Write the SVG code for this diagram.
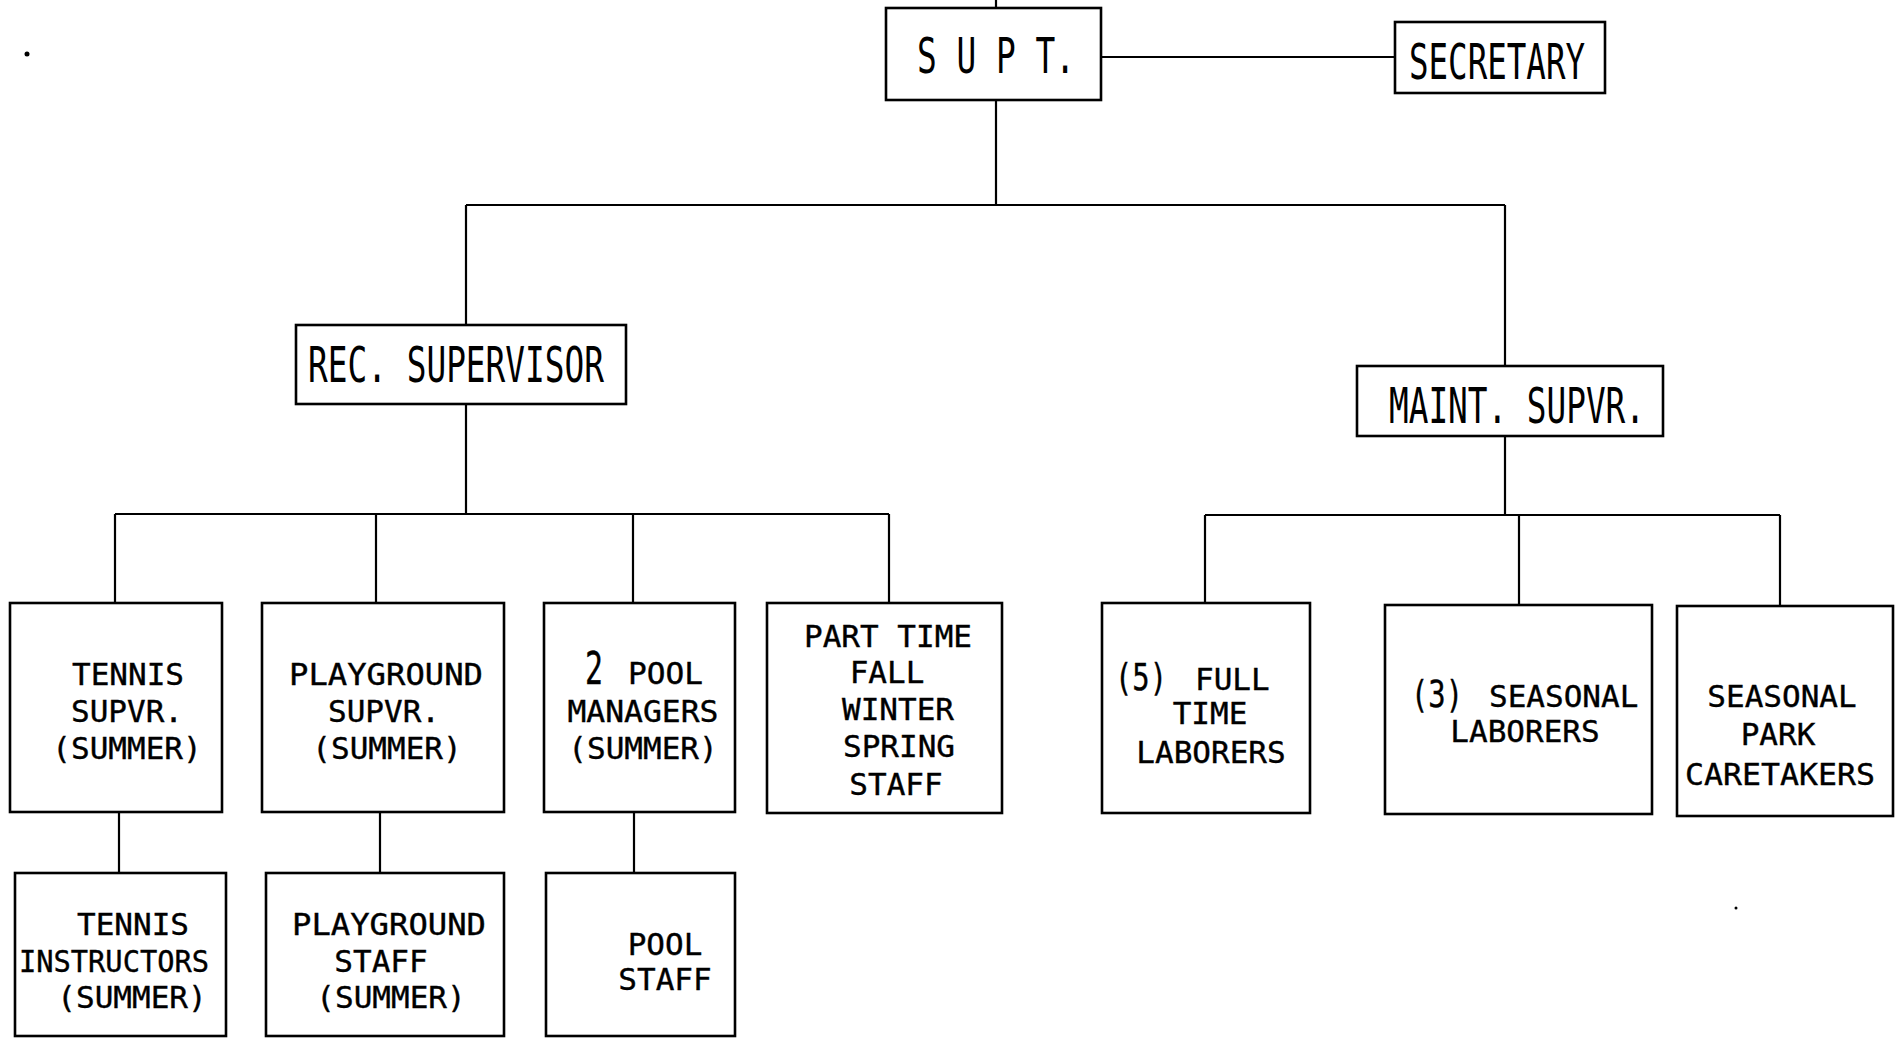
<svg xmlns="http://www.w3.org/2000/svg" width="1895" height="1038" viewBox="0 0 1895 1038">
<style>
.box{fill:#fff;stroke:#000;stroke-width:2.6}
.ln{fill:none;stroke:#000;stroke-width:2.2}
.big{font-family:"DejaVu Sans Mono","Liberation Mono",monospace;font-size:49px;fill:#000}
.sm{font-family:"DejaVu Sans Mono","Liberation Mono",monospace;font-size:31px;fill:#000;stroke:#000;stroke-width:0.4;text-anchor:middle}
.sl{font-family:"DejaVu Sans Mono","Liberation Mono",monospace;font-size:31px;fill:#000;stroke:#000;stroke-width:0.4}
</style>
<rect width="1895" height="1038" fill="#fff"/>
<g id="connectors">
<path class="ln" d="M996,0 V8 M1101,57 H1395 M996,100 V205 M466,205 H1505 M466,205 V325 M1505,205 V366 M466,404 V514 M115,514 H889 M115,514 V603 M376,514 V603 M633,514 V603 M889,514 V603 M119,812 V873 M380,812 V873 M634,812 V873 M1505,436 V515 M1205,515 H1780 M1205,515 V603 M1519,515 V605 M1780,515 V606"/>
</g>
<g id="supt"><rect class="box" x="886" y="8" width="215" height="92"/><text class="big" x="917" y="73" textLength="158" lengthAdjust="spacingAndGlyphs">S U P T.</text></g>
<g id="secretary"><rect class="box" x="1395" y="22" width="210" height="71"/><text class="big" x="1409" y="79" textLength="176" lengthAdjust="spacingAndGlyphs">SECRETARY</text></g>
<g id="rec-supervisor"><rect class="box" x="296" y="325" width="330" height="79"/><text class="big" x="308" y="382" textLength="296" lengthAdjust="spacingAndGlyphs">REC. SUPERVISOR</text></g>
<g id="maint-supvr"><rect class="box" x="1357" y="366" width="306" height="70"/><text class="big" x="1389" y="423" textLength="256" lengthAdjust="spacingAndGlyphs">MAINT. SUPVR.</text></g>
<g id="tennis-supvr"><rect class="box" x="10" y="603" width="212" height="209"/>
<text class="sm" x="128" y="685">TENNIS</text><text class="sm" x="127" y="722">SUPVR.</text><text class="sm" x="127" y="759">(SUMMER)</text></g>
<g id="playground-supvr"><rect class="box" x="262" y="603" width="242" height="209"/>
<text class="sm" x="386" y="685" textLength="194" lengthAdjust="spacingAndGlyphs">PLAYGROUND</text><text class="sm" x="384" y="722">SUPVR.</text><text class="sm" x="387" y="759">(SUMMER)</text></g>
<g id="pool-managers"><rect class="box" x="544" y="603" width="191" height="209"/>
<text class="sl" x="585" y="684"><tspan font-size="45" textLength="18" lengthAdjust="spacingAndGlyphs">2</tspan><tspan x="628" textLength="75" lengthAdjust="spacingAndGlyphs">POOL</tspan></text><text class="sm" x="643" y="722" textLength="151" lengthAdjust="spacingAndGlyphs">MANAGERS</text><text class="sm" x="643" y="759">(SUMMER)</text></g>
<g id="part-time"><rect class="box" x="767" y="603" width="235" height="210"/>
<text class="sm" x="888" y="647">PART TIME</text><text class="sm" x="887" y="683">FALL</text><text class="sm" x="898" y="720">WINTER</text><text class="sm" x="899" y="757">SPRING</text><text class="sm" x="896" y="795">STAFF</text></g>
<g id="tennis-instructors"><rect class="box" x="15" y="873" width="211" height="163"/>
<text class="sm" x="133" y="935">TENNIS</text><text class="sm" x="114" y="972" textLength="190" lengthAdjust="spacingAndGlyphs">INSTRUCTORS</text><text class="sm" x="132" y="1008">(SUMMER)</text></g>
<g id="playground-staff"><rect class="box" x="266" y="873" width="238" height="163"/>
<text class="sm" x="389" y="935" textLength="194" lengthAdjust="spacingAndGlyphs">PLAYGROUND</text><text class="sm" x="381" y="972">STAFF</text><text class="sm" x="391" y="1008">(SUMMER)</text></g>
<g id="pool-staff"><rect class="box" x="546" y="873" width="189" height="163"/>
<text class="sm" x="665" y="955">POOL</text><text class="sm" x="665" y="990">STAFF</text></g>
<g id="full-time-laborers"><rect class="box" x="1102" y="603" width="208" height="210"/>
<text class="sl" x="1115" y="690"><tspan font-size="38" textLength="52" lengthAdjust="spacingAndGlyphs">(5)</tspan><tspan x="1195">FULL</tspan></text><text class="sm" x="1210" y="724">TIME</text><text class="sm" x="1211" y="763">LABORERS</text></g>
<g id="seasonal-laborers"><rect class="box" x="1385" y="605" width="267" height="209"/>
<text class="sl" x="1411" y="707"><tspan font-size="38" textLength="52" lengthAdjust="spacingAndGlyphs">(3)</tspan><tspan x="1489">SEASONAL</tspan></text><text class="sm" x="1525" y="742">LABORERS</text></g>
<g id="seasonal-park-caretakers"><rect class="box" x="1677" y="606" width="216" height="210"/>
<text class="sm" x="1782" y="707">SEASONAL</text><text class="sm" x="1778" y="745">PARK</text><text class="sm" x="1780" y="785" textLength="190" lengthAdjust="spacingAndGlyphs">CARETAKERS</text></g>
<circle cx="27" cy="54" r="2.5" fill="#000"/>
<circle cx="1736" cy="908" r="1.5" fill="#000"/>
</svg>
